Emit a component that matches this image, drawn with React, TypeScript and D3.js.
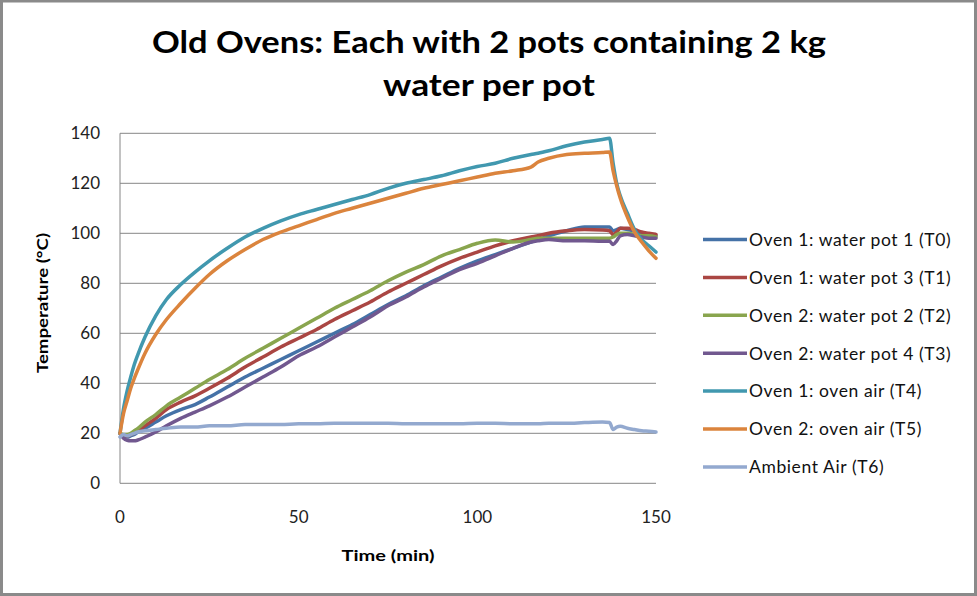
import React from "react";
import * as d3 from "d3";

const times = [0,1,2,3,4,5,7,10,13,17,21,25,30,35,40,45,50,55,60,65,70,75,80,85,90,95,100,105,110,115,117,120,125,130,135,137,138,139,140,142,144,146,148,150];

const t0 = [20,19,18.5,19,19.5,20.5,22,24.5,27,29.5, 31.5,34.5,38.5,42.5,46,49.5,53,56.5,60,63.5, 67.5,71.5,75,79,82.5,86,89,91.5,94,96.5, 97.5,99,101,102.5,102.5,102.5,101,101.5,102,101.5, 101,100,99.5,99];
const t1 = [20,19,19,19.5,20,21,23,26,29.5,32.5, 35,38,42,46.5,50.5,54.5,58,61.5,65.5,69, 72.5,76.5,80,83.5,87,90,92.5,95,97,98.5, 99,100,101,101.5,101.3,101,99.5,100.5,102,102, 101.5,100.5,100,99.5];
const t2 = [20,19.5,19.5,20,21,22,24.5,27.5,31,34.5, 38,41.5,45.5,50,54,58,62,66,70,73.5, 77,81,84.5,87.5,91,93.5,96,97.3,96.5,97.5, 98,98,98,98,98,98,98.5,99.5,100,100, 99.5,99,99,98.5];
const t3 = [20,18,17.2,17,17,17.3,18.5,20.5,23,26, 28.5,31,34.5,38.5,42.5,46.5,51,54.5,58.5,62.5, 66.5,71,74.5,78.5,82,85.5,88,91,94,96.5, 97,97.5,97,97,96.8,96.8,95.5,97,99,99.5, 99,98.5,98,98];
const t4 = [20,30,37,42.5,47.5,51.5,58.5,67,73.5,79.5, 84.5,89,94,98.5,102,105,107.5,109.5,111.5,113.5, 115.5,118,120,121.5,123,125,126.7,128,130,131.5, 132,133,135,136.5,137.5,138,128,120,115,108, 101.5,97.5,95,92.5];
const t5 = [20,28,33,38,42,45.5,52,59.5,65.5,72, 78,83.5,89,93.5,97.5,100.5,103,105.5,108,110, 112,114,116,118,119.5,121,122.5,124,125,126.5, 128.5,130,131.5,132,132.3,132.5,125,119,114,106.5, 100.5,96.5,93,90];
const t6 = [18.5,19.5,19,19.5,20,20.5,21,21.5,22,22.5, 22.5,23,23,23.5,23.5,23.5,23.8,23.8,24,24, 24,24,23.8,23.8,23.8,23.8,24,24,23.8,23.8, 23.8,24,24,24.3,24.5,24.3,21.5,22.5,22.8,22, 21.5,21,20.8,20.5];

const seriesNames = [
  "Oven 1: water pot 1 (T0)",
  "Oven 1: water pot 3 (T1)",
  "Oven 2: water pot 2 (T2)",
  "Oven 2: water pot 4 (T3)",
  "Oven 1: oven air (T4)",
  "Oven 2: oven air (T5)",
  "Ambient Air (T6)",
];
const seriesValues = [t0, t1, t2, t3, t4, t5, t6];
const seriesColors = ["#4572A7", "#AA4643", "#89A54E", "#71588F", "#4198AF", "#DB843D", "#93A9CF"];

const yTicks = [0, 20, 40, 60, 80, 100, 120, 140];
const xTicks = [0, 50, 100, 150];

const titleLines = ["Old Ovens: Each with 2 pots containing 2 kg", "water per pot"];
const xTitle = "Time (min)";
const yTitle = "Temperature (°C)";

const W = 977;
const H = 596;
const FONT = "Lato, 'Open Sans', sans-serif";

export default function App() {
  const x = d3.scaleLinear().domain([0, 150]).range([120, 656]);
  const y = d3.scaleLinear().domain([0, 140]).range([483.3, 133.3]);
  const line = d3
    .line<number>()
    .x((_, i) => x(times[i]))
    .y((v) => y(v))
    .curve(d3.curveMonotoneX);
  const gridColor = "#868686";
  const legendY0 = 239.5;
  const legendStep = 37.9;

  return (
    <svg
      width={W}
      height={H}
      viewBox={`0 0 ${W} ${H}`}
      style={{ position: "absolute", left: 0, top: 0, display: "block", background: "#fff" }}
      fontFamily={FONT}
    >
      <rect x={0} y={0} width={W} height={H} fill="#fff" />
      <rect x={1.5} y={1} width={974} height={593.5} fill="none" stroke="#8a8a8a" strokeWidth={3} />

      {titleLines.map((t, i) => (
        <text
          key={t}
          x={489}
          y={i === 0 ? 53 : 96}
          textAnchor="middle"
          fontWeight="bold"
          fontSize={31}
          fill="#000"
          textLength={i === 0 ? 674 : 212}
          lengthAdjust="spacingAndGlyphs"
        >
          {t}
        </text>
      ))}

      {yTicks.map((v) => (
        <line key={"g" + v} x1={x(0)} x2={x(150)} y1={y(v)} y2={y(v)} stroke={gridColor} strokeWidth={1} />
      ))}
      <line x1={x(0)} x2={x(0)} y1={y(0)} y2={y(140)} stroke={gridColor} strokeWidth={1} />

      {yTicks.map((v) => (
        <text key={"yt" + v} x={100} y={y(v)} dy="0.36em" textAnchor="end" fontSize={17} fill="#222">
          {v}
        </text>
      ))}
      {xTicks.map((v) => (
        <text key={"xt" + v} x={x(v)} y={523} textAnchor="middle" fontSize={17} fill="#222">
          {v}
        </text>
      ))}

      <text x={388} y={561} textAnchor="middle" fontWeight="bold" fontSize={16} textLength={93} lengthAdjust="spacingAndGlyphs">
        {xTitle}
      </text>
      <text
        transform={`translate(47.5, 303) rotate(-90)`}
        textAnchor="middle"
        fontWeight="bold"
        fontSize={16}
        textLength={140}
        lengthAdjust="spacingAndGlyphs"
      >
        {yTitle}
      </text>

      {seriesValues.map((vals, i) => (
        <path
          key={"s" + i}
          d={line(vals) || ""}
          fill="none"
          stroke={seriesColors[i]}
          strokeWidth={3.5}
          strokeLinejoin="round"
          strokeLinecap="round"
        />
      ))}

      {seriesNames.map((n, i) => {
        const ly = legendY0 + i * legendStep;
        return (
          <g key={"l" + i}>
            <line x1={703} x2={747} y1={ly} y2={ly} stroke={seriesColors[i]} strokeWidth={3.5} />
            <text x={749} y={ly} dy="0.36em" fontSize={17.5} letterSpacing={0.6} fill="#111">
              {n}
            </text>
          </g>
        );
      })}
    </svg>
  );
}
